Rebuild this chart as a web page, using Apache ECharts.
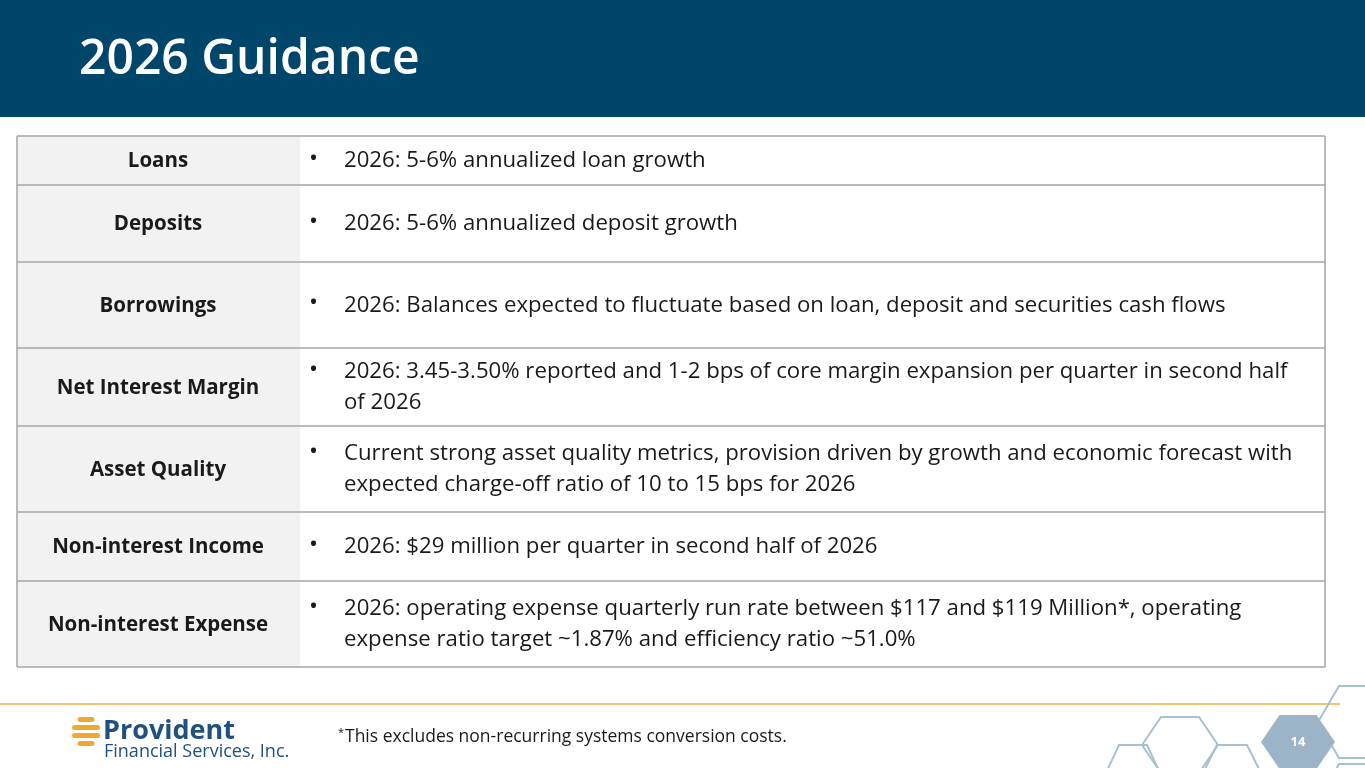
<!DOCTYPE html>
<html><head><meta charset="utf-8">
<script src="https://cdn.jsdelivr.net/npm/echarts@6/dist/echarts.min.js"></script>
<style>html,body{margin:0;padding:0;background:#fff}#c{width:1365px;height:768px}</style>
</head><body><div id="c"></div>
<script>
const title = "2026 Guidance";
const categories = ["Loans","Deposits","Borrowings","Net Interest Margin","Asset Quality","Non-interest Income","Non-interest Expense"];
const descriptions = [
  "2026: 5-6% annualized loan growth",
  "2026: 5-6% annualized deposit growth",
  "2026: Balances expected to fluctuate based on loan, deposit and securities cash flows",
  "2026: 3.45-3.50% reported and 1-2 bps of core margin expansion per quarter in second half\nof 2026",
  "Current strong asset quality metrics, provision driven by growth and economic forecast with\nexpected charge-off ratio of 10 to 15 bps for 2026",
  "2026: $29 million per quarter in second half of 2026",
  "2026: operating expense quarterly run rate between $117 and $119 Million*, operating\nexpense ratio target ~1.87% and efficiency ratio ~51.0%"
];
const footnote = "This excludes non-recurring systems conversion costs.";
const pageNumber = "14";

const rowEdges = [136,185,262,348,426,512,581,667];
const FONT = "'Open Sans', sans-serif";
const g = [];
g.push({type:'rect',shape:{x:0,y:0,width:1365,height:117},style:{fill:'#00466b'}});
g.push({type:'text',style:{x:79,y:60,text:title,fill:'#fff',font:"600 48px "+FONT,textVerticalAlign:'middle'}});
categories.forEach((c,i)=>{
  const y0=rowEdges[i], y1=rowEdges[i+1], h=y1-y0, cy=(y0+y1)/2;
  g.push({type:'rect',shape:{x:17,y:y0,width:283,height:h},style:{fill:'#f2f2f2'}});
  g.push({type:'text',style:{x:158,y:cy+1,text:c,fill:'#1a1a1a',font:"bold 20.5px "+FONT,textAlign:'center',textVerticalAlign:'middle'}});
  const lines = descriptions[i].split("\n");
  const top = cy - (lines.length*31)/2 + 16;
  g.push({type:'text',style:{x:309,y:top-2,text:'•',fill:'#1a1a1a',font:"24px "+FONT,textVerticalAlign:'middle'}});
  lines.forEach((l,k)=>g.push({type:'text',style:{x:344,y:top+k*31,text:l,fill:'#1a1a1a',font:"22.2px "+FONT,textVerticalAlign:'middle'}}));
});
rowEdges.forEach(y=>g.push({type:'line',shape:{x1:17,y1:y,x2:1325,y2:y},style:{stroke:'#a6a6a6',lineWidth:1.5}}));
g.push({type:'line',shape:{x1:17,y1:136,x2:17,y2:667},style:{stroke:'#a6a6a6',lineWidth:1.5}});
g.push({type:'line',shape:{x1:1325,y1:136,x2:1325,y2:667},style:{stroke:'#a6a6a6',lineWidth:1.5}});
g.push({type:'line',shape:{x1:0,y1:704,x2:1340,y2:704},style:{stroke:'#f2c46e',lineWidth:2}});
g.push({type:'text',style:{x:338,y:727,text:'*',fill:'#1a1a1a',font:"11px "+FONT}});
g.push({type:'text',style:{x:345,y:737,text:footnote,fill:'#1a1a1a',font:"17.5px "+FONT,textVerticalAlign:'middle'}});
[[720,0.6],[728,1],[736,1],[744,0.6]].forEach(([y,w])=>g.push({type:'rect',shape:{x:86-14*w,y:y-3,width:28*w,height:5,r:2.5},style:{fill:'#f0a830'}}));
g.push({type:'text',style:{x:103,y:731,text:'Provident',fill:'#1f5080',font:"bold 27px 'Liberation Sans Narrow', "+FONT,textVerticalAlign:'middle'}});
g.push({type:'text',style:{x:104,y:752,text:'Financial Services, Inc.',fill:'#1f5080',font:"18px 'Liberation Sans Narrow', "+FONT,textVerticalAlign:'middle'}});
function hex(cx,cy,rx,ry,fill){
  const pts=[[cx-rx,cy],[cx-rx/2,cy-ry],[cx+rx/2,cy-ry],[cx+rx,cy],[cx+rx/2,cy+ry],[cx-rx/2,cy+ry]];
  g.push({type:'polygon',shape:{points:pts},style:{fill:fill||'none',stroke:fill?'none':'#a9c0cf',lineWidth:2}});
}
hex(1180,745,38,28);
hex(1133,775,28,30);
hex(1232,775,30,30);
hex(1360,722,42,36);
hex(1360,800,42,36);
hex(1298,742,37,27,'#9bb4c7');
g.push({type:'text',style:{x:1298,y:742,text:pageNumber,fill:'#fff',font:"bold 13px "+FONT,textAlign:'center',textVerticalAlign:'middle'}});
const chart = echarts.init(document.getElementById('c'));
chart.setOption({graphic:g});
</script></body></html>
